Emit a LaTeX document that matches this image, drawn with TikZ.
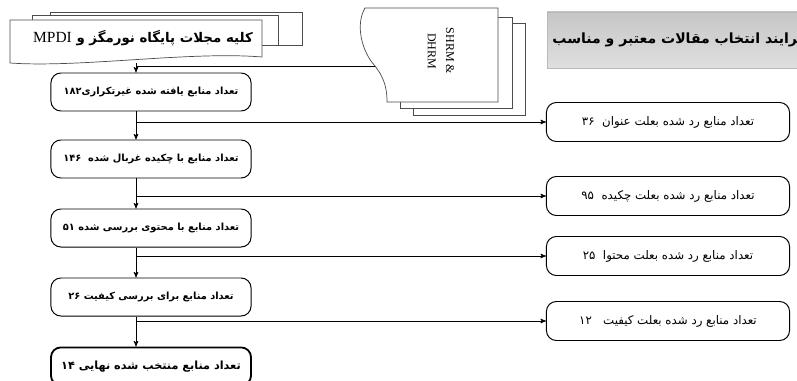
\documentclass[tikz,border=0pt]{standalone}
\usepackage{fontspec}
\setmainfont{Liberation Serif}
\newfontfamily\farsi[Script=Arabic]{DejaVu Sans}
\TeXXeTstate=1
\usetikzlibrary{positioning}
\usetikzlibrary{arrows}
\tikzset{
  box_n/.style = {draw=black, rounded corners=7pt, inner sep=0pt, align=center,
    line width=0.7pt, fill=white},
  box_l/.style = {box_n, minimum width=5cm, minimum height=0.95cm,
    font=\farsi\bfseries\fontsize{7}{8}\selectfont},
  box_r/.style = {box_n, minimum width=6.075cm, minimum height=0.975cm,
    font=\farsi\fontsize{8.4}{9}\selectfont},
  page/.style = {draw=black!70, fill=white, line width=0.5pt},
}

\begin{document}
\begin{tikzpicture}[x=0.025cm,y=-0.025cm,>=stealth',line width=0.5pt]
\clip (0,0) rectangle (797,381);
% pile of journals
\draw[page] (50,12) rectangle (302,45);
\draw[page] (32,15) rectangle (278,45);
\draw[page] (10,20) -- (262,20) -- (262,57) .. controls (190,51) and (80,68) .. (10,63) -- cycle;
\node[font=\farsi\bfseries\fontsize{9.5}{11}\selectfont] (jrn) at (143,38)
  {\beginR کلیه مجلات پایگاه نورمگز و \beginL{\rmfamily\mdseries\fontsize{11}{12}\selectfont MPDI}\endL\endR};
\coordinate (d1) at (136,63);
% SHRM & DHRM pile
\draw[page] (413,23) rectangle (525,115);
\draw[page] (400,17) rectangle (512,108);
\draw[page] (365,8) .. controls (355,25) and (362,52) .. (375,66)
  .. controls (386,80) and (387,92) .. (387,102) -- (498,102) -- (498,8) -- cycle;
\node[rotate=-90, align=center, font=\fontsize{8.5}{13}\selectfont] (hrm) at (441,51) {SHRM \&\\DHRM};
\coordinate (d2) at (375,66);
% title
\shade[top color=gray!45, bottom color=gray!25, draw=gray!55] (547,12) rectangle (830,68);
\node[anchor=east, font=\farsi\bfseries\fontsize{10}{12}\selectfont] (title) at (812,40)
  {\beginR فرایند انتخاب مقالات معتبر و مناسب\endR};
% left column
\coordinate (spine) at (136,0);
\node[box_l] (B1) at (151,92) {\beginR تعداد منابع یافته شده غیرتکراری\beginL۱۸۲\endL\endR};
\node[box_l] (B2) [below=0.7cm of B1] {\beginR تعداد منابع با چکیده غربال شده\ \ \beginL۱۴۶\endL\endR};
\node[box_l] (B3) [below=0.75cm of B2] {\beginR تعداد منابع با محتوی بررسی شده \beginL۵۱\endL\endR};
\node[box_l] (B4) [below=0.75cm of B3] {\beginR تعداد منابع برای بررسی کیفیت \beginL۲۶\endL\endR};
\node[box_l, line width=1.3pt, font=\farsi\bfseries\fontsize{8}{9}\selectfont] (B5) [below=0.75cm of B4]
  {\beginR تعداد منابع منتخب شده نهایی \beginL۱۴\endL\endR};
% right column
\node[box_r] (R1) at (668,122) {\beginR تعداد منابع رد شده بعلت عنوان\ \ \beginL۳۶\endL\endR};
\node[box_r] (R2) at (668,196) {\beginR تعداد منابع رد شده بعلت چکیده\ \ \beginL۹۵\endL\endR};
\node[box_r] (R3) at (668,256) {\beginR تعداد منابع رد شده بعلت محتوا\ \ \beginL۲۵\endL\endR};
\node[box_r] (R4) at (668,321) {\beginR تعداد منابع رد شده بعلت کیفیت\ \ \ \beginL۱۲\endL\endR};
% connectors
\draw[->] (d1) -- (B1.north -| d1);
\draw (d2) -- (spine |- d2);
\draw[->] (B1.south -| spine) -- (B2.north -| spine);
\draw[->] (B2.south -| spine) -- (B3.north -| spine);
\draw[->] (B3.south -| spine) -- (B4.north -| spine);
\draw[->] (B4.south -| spine) -- (B5.north -| spine);
\draw[->] (spine |- R1.west) -- (R1.west);
\draw[->] (spine |- R2.west) -- (R2.west);
\draw[->] (spine |- R3.west) -- (R3.west);
\draw[->] (spine |- R4.west) -- (R4.west);
\end{tikzpicture}
\end{document}
